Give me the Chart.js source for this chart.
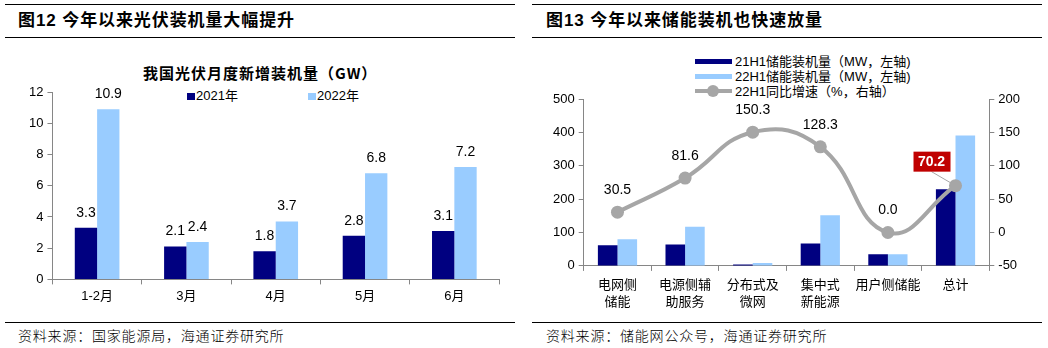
<!DOCTYPE html>
<html>
<head>
<meta charset="utf-8">
<script src="https://cdn.jsdelivr.net/npm/chart.js@4.4.1/dist/chart.umd.min.js"></script>
<style>
body{margin:0;width:1048px;height:348px;background:#fff;position:relative;overflow:hidden;font-family:"Liberation Sans","Noto Sans CJK SC",sans-serif;color:#000;}
.rule{position:absolute;height:0;border-top:1.5px solid #000;}
.head{position:absolute;font-weight:bold;font-size:17px;line-height:20px;letter-spacing:0.9px;white-space:nowrap;font-family:"Liberation Sans","Noto Sans CJK SC",sans-serif;}
.src{position:absolute;font-size:14px;line-height:16px;letter-spacing:0.8px;white-space:nowrap;font-family:"Noto Sans CJK SC",sans-serif;font-weight:300;}
.ctitle{position:absolute;font-weight:bold;font-size:15px;line-height:16px;letter-spacing:1px;white-space:nowrap;font-family:"Noto Sans CJK SC",sans-serif;}
.lg{position:absolute;font-size:13px;line-height:15px;white-space:nowrap;}
.sq{position:absolute;width:8px;height:7px;}
.bar{position:absolute;width:37px;height:5px;}
canvas{position:absolute;}
</style>
</head>
<body>
<!-- left panel -->
<div class="rule" style="left:5px;top:4px;width:510px"></div>
<div class="head" style="left:18px;top:11px">图12 今年以来光伏装机量大幅提升</div>
<div class="rule" style="left:5px;top:37px;width:510px"></div>
<div class="ctitle" style="left:143px;top:65px">我国光伏月度新增装机量（GW）</div>
<div class="sq" style="left:187px;top:93px;background:#000080"></div>
<div class="lg" style="left:196px;top:88px">2021年</div>
<div class="sq" style="left:308px;top:93px;background:#99CCFF"></div>
<div class="lg" style="left:317px;top:88px">2022年</div>
<canvas id="pv" width="520" height="240" style="left:0;top:80px"></canvas>
<div class="rule" style="left:5px;top:322px;width:510px"></div>
<div class="src" style="left:18px;top:327px">资料来源：国家能源局，海通证券研究所</div>

<!-- right panel -->
<div class="rule" style="left:532px;top:4px;width:510px"></div>
<div class="head" style="left:546px;top:11px">图13 今年以来储能装机也快速放量</div>
<div class="rule" style="left:532px;top:37px;width:510px"></div>
<div class="bar" style="left:695px;top:59px;background:#000080"></div>
<div class="lg" style="left:735px;top:54px">21H1储能装机量（MW，左轴)</div>
<div class="bar" style="left:695px;top:74px;background:#99CCFF"></div>
<div class="lg" style="left:735px;top:69px">22H1储能装机量（MW，左轴)</div>
<div class="bar" style="left:695px;top:89px;height:4px;background:#A6A6A6"></div>
<div style="position:absolute;left:707px;top:85px;width:12px;height:12px;border-radius:6px;background:#A6A6A6"></div>
<div class="lg" style="left:735px;top:84px">22H1同比增速（%，右轴）</div>
<canvas id="es" width="523" height="240" style="left:525px;top:80px"></canvas>
<div class="rule" style="left:532px;top:322px;width:510px"></div>
<div class="src" style="left:546px;top:327px">资料来源：储能网公众号，海通证券研究所</div>

<script>
// 图12 光伏月度新增装机量（GW）
const pvMonths = ["1-2月", "3月", "4月", "5月", "6月"];
const pv2021 = [3.3, 2.1, 1.8, 2.8, 3.1];
const pv2022 = [10.9, 2.4, 3.7, 6.8, 7.2];

// 图13 储能装机
const esCats = [["电网侧", "储能"], ["电源侧辅", "助服务"], ["分布式及", "微网"], ["集中式", "新能源"], "用户侧储能", "总计"];
const es21H1 = [62, 64, 4, 67, 35, 230];
const es22H1 = [80, 117, 9, 152, 35, 391];
const esGrowth = [30.5, 81.6, 150.3, 128.3, 0.0, 70.2];

const NAVY = "#000080";
const SKY = "#99CCFF";
const GREY = "#A6A6A6";
const AXIS = "#868686";
const tickFont = { family: "'Liberation Sans', 'Noto Sans CJK SC', sans-serif", size: 13 };

// draws the numbers above bars / points
const valueLabels = {
  id: "valueLabels",
  afterDatasetsDraw(chart) {
    const ctx = chart.ctx;
    ctx.save();
    ctx.textAlign = "center";
    ctx.textBaseline = "middle";
    chart.data.datasets.forEach((ds, i) => {
      if (!ds.labelFmt) return;
      const meta = chart.getDatasetMeta(i);
      meta.data.forEach((el, j) => {
        const txt = ds.data[j].toFixed(1);
        if (ds.boxLast && j === ds.data.length - 1) {
          const bx = el.x - 24, by = el.y - 24;
          ctx.strokeStyle = GREY;
          ctx.lineWidth = 1;
          ctx.beginPath();
          ctx.moveTo(bx, by + 10);
          ctx.lineTo(el.x, el.y);
          ctx.stroke();
          ctx.fillStyle = "#C00000";
          ctx.fillRect(bx - 18, by - 10, 37, 20);
          ctx.fillStyle = "#fff";
          ctx.font = "bold 14px 'Liberation Sans', sans-serif";
          ctx.fillText(txt, bx, by);
          return;
        }
        ctx.fillStyle = "#000";
        ctx.font = "14px 'Liberation Sans', sans-serif";
        ctx.fillText(txt, el.x, el.y - ds.labelFmt);
      });
    });
    ctx.restore();
  }
};

new Chart(document.getElementById("pv").getContext("2d"), {
  type: "bar",
  data: {
    labels: pvMonths,
    datasets: [
      { label: "2021年", data: pv2021, backgroundColor: NAVY, labelFmt: 15,
        barPercentage: 1, categoryPercentage: 0.5 },
      { label: "2022年", data: pv2022, backgroundColor: SKY, labelFmt: 15,
        barPercentage: 1, categoryPercentage: 0.5 }
    ]
  },
  options: {
    responsive: false,
    animation: false,
    layout: { padding: { left: 25, right: 21, top: 12, bottom: 12 } },
    plugins: { legend: { display: false }, tooltip: { enabled: false } },
    scales: {
      x: {
        grid: { drawOnChartArea: false, color: AXIS, tickLength: 5 },
        border: { color: AXIS },
        ticks: { color: "#000", font: tickFont, padding: 4 }
      },
      y: {
        min: 0, max: 12,
        grid: { drawOnChartArea: false, color: AXIS, tickLength: 5 },
        border: { color: AXIS },
        ticks: { color: "#000", font: tickFont, stepSize: 2, padding: 4 }
      }
    }
  },
  plugins: [valueLabels]
});

new Chart(document.getElementById("es").getContext("2d"), {
  type: "bar",
  data: {
    labels: esCats,
    datasets: [
      { type: "line", label: "22H1同比增速（%，右轴）", data: esGrowth, yAxisID: "y1",
        borderColor: GREY, backgroundColor: GREY, borderWidth: 4, tension: 0.45,
        pointRadius: 6.5, pointBackgroundColor: GREY, pointBorderWidth: 0,
        labelFmt: 22, boxLast: true, order: 0 },
      { label: "21H1储能装机量（MW，左轴)", data: es21H1, backgroundColor: NAVY, yAxisID: "y",
        barPercentage: 1, categoryPercentage: 0.58, order: 1 },
      { label: "22H1储能装机量（MW，左轴)", data: es22H1, backgroundColor: SKY, yAxisID: "y",
        barPercentage: 1, categoryPercentage: 0.58, order: 1 }
    ]
  },
  options: {
    responsive: false,
    animation: false,
    layout: { padding: { left: 24, right: 24, top: 19, bottom: 6 } },
    plugins: { legend: { display: false }, tooltip: { enabled: false } },
    scales: {
      x: {
        grid: { drawOnChartArea: false, color: AXIS, tickLength: 5 },
        border: { color: AXIS },
        ticks: { color: "#000", font: { family: "'Noto Sans CJK SC', sans-serif", size: 13, lineHeight: 1.35 }, padding: 4, maxRotation: 0, autoSkip: false }
      },
      y: {
        position: "left", min: 0, max: 500,
        grid: { drawOnChartArea: false, color: AXIS, tickLength: 5 },
        border: { color: AXIS },
        ticks: { color: "#000", font: tickFont, stepSize: 100, padding: 4 }
      },
      y1: {
        position: "right", min: -50, max: 200,
        grid: { drawOnChartArea: false, color: AXIS, tickLength: 5 },
        border: { color: AXIS },
        ticks: { color: "#000", font: tickFont, stepSize: 50, padding: 4 }
      }
    }
  },
  plugins: [valueLabels]
});
</script>
</body>
</html>
